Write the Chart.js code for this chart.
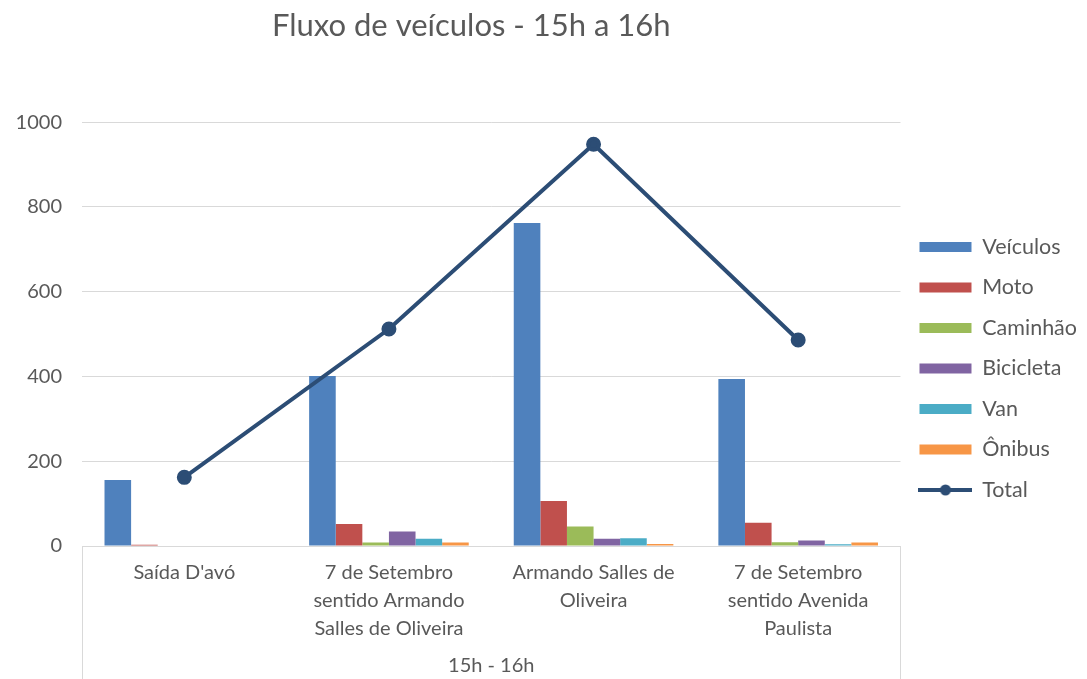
<!DOCTYPE html>
<html>
<head>
<meta charset="utf-8">
<script src="https://cdn.jsdelivr.net/npm/chart.js@4"></script>
<style>
  body { margin: 0; background: #fff; }
  #wrap { width: 1087px; height: 679px; }
</style>
</head>
<body>
<div id="wrap"><canvas id="chart"></canvas></div>
<script>
// categorias (local) e valores
var locais = [
  "Saída D'avó",
  ["7 de Setembro", "sentido Armando", "Salles de Oliveira"],
  ["Armando Salles de", "Oliveira"],
  ["7 de Setembro", "sentido Avenida", "Paulista"]
];
var veiculos  = [156, 401, 762, 394];
var moto      = [3, 52, 106, 55];
var caminhao  = [0, 8, 46, 9];
var bicicleta = [0, 34, 17, 13];
var van       = [0, 17, 18, 4];
var onibus    = [0, 8, 5, 8];
var total     = [162, 512, 948, 486];
var yTicks    = [0, 200, 400, 600, 800, 1000];

var cinza = '#595959';
var fonte = 'Lato, "Open Sans", sans-serif';
var azulTotal = '#2C4D75';

// marcador da legenda do Total: linha com bolinha
var marcaTotal = document.createElement('canvas');
marcaTotal.width = 54; marcaTotal.height = 14;
(function () {
  var m = marcaTotal.getContext('2d');
  m.strokeStyle = azulTotal; m.lineWidth = 4;
  m.beginPath(); m.moveTo(0, 7); m.lineTo(54, 7); m.stroke();
  m.fillStyle = azulTotal;
  m.beginPath(); m.arc(27, 7, 5.5, 0, Math.PI * 2); m.fill();
})();

// linhas verticais do eixo de categorias (estilo Excel)
// + titulo um pouco deslocado pra esquerda como no original
const separadores = {
  id: 'separadores',
  afterLayout(chart) {
    if (chart.titleBlock) { chart.titleBlock.left -= 20; chart.titleBlock.right -= 20; }
  },
  afterDraw(chart) {
    const c = chart.ctx, a = chart.chartArea;
    c.save();
    c.strokeStyle = '#d9d9d9';
    c.lineWidth = 1;
    [a.left, a.right].forEach(function (x) {
      c.beginPath();
      c.moveTo(Math.round(x) + 0.5, a.bottom);
      c.lineTo(Math.round(x) + 0.5, chart.height);
      c.stroke();
    });
    c.restore();
  }
};

function barra(label, data, cor) {
  return { type: 'bar', label: label, data: data, backgroundColor: cor, borderWidth: 0, order: 2 };
}

const ctx = document.getElementById('chart').getContext('2d');
const myChart = new Chart(ctx, {
  data: {
    labels: locais,
    datasets: [
      barra('Veículos', veiculos, '#4F81BD'),
      barra('Moto', moto, '#C0504D'),
      barra('Caminhão', caminhao, '#9BBB59'),
      barra('Bicicleta', bicicleta, '#8064A2'),
      barra('Van', van, '#4BACC6'),
      barra('Ônibus', onibus, '#F79646'),
      {
        type: 'line', label: 'Total', data: total, order: 1,
        borderColor: azulTotal, backgroundColor: azulTotal,
        borderWidth: 4, pointRadius: 5.5, pointHoverRadius: 5.5, tension: 0
      }
    ]
  },
  options: {
    responsive: true,
    maintainAspectRatio: false,
    animation: false,
    layout: { padding: { left: 0, right: 0, top: 0, bottom: 1 } },
    datasets: { bar: { categoryPercentage: 0.78, barPercentage: 1 } },
    plugins: {
      title: {
        display: true, text: 'Fluxo de veículos - 15h a 16h', fullSize: false,
        color: cinza, font: { family: fonte, size: 31, weight: 'normal' },
        padding: { top: 7, bottom: 78 }
      },
      legend: {
        position: 'right',
        title: { display: true, text: ' ', font: { size: 10 }, padding: { top: 23, bottom: 24 } },
        labels: {
          color: cinza, font: { family: fonte, size: 21.5 },
          usePointStyle: true, pointStyleWidth: 52, boxHeight: 10, padding: 19,
          sort: function (a, b) { return a.datasetIndex - b.datasetIndex; },
          generateLabels: function (chart) {
            var items = Chart.defaults.plugins.legend.labels.generateLabels(chart);
            items.forEach(function (it) {
              it.lineWidth = 0;
              it.pointStyle = it.text === 'Total' ? marcaTotal : 'rect';
            });
            return items;
          }
        }
      },
      tooltip: { enabled: false }
    },
    scales: {
      x: {
        grid: { display: false },
        border: { color: '#d9d9d9' },
        ticks: { color: cinza, font: { family: fonte, size: 20, lineHeight: 1.4 }, padding: 5, maxRotation: 0, autoSkip: false },
        title: { display: true, text: '15h - 16h', color: cinza, font: { family: fonte, size: 20 }, padding: { top: 6, bottom: 0 } }
      },
      y: {
        min: 0, max: 1000,
        afterBuildTicks: function (axis) { axis.ticks = yTicks.map(function (v) { return { value: v }; }); },
        afterFit: function (axis) { axis.width = 82; },
        grid: { color: '#d9d9d9', drawTicks: false },
        border: { display: false },
        ticks: { color: cinza, font: { family: fonte, size: 20 }, padding: 20, callback: function (v) { return String(v); } }
      }
    }
  },
  plugins: [separadores]
});
</script>
</body>
</html>
